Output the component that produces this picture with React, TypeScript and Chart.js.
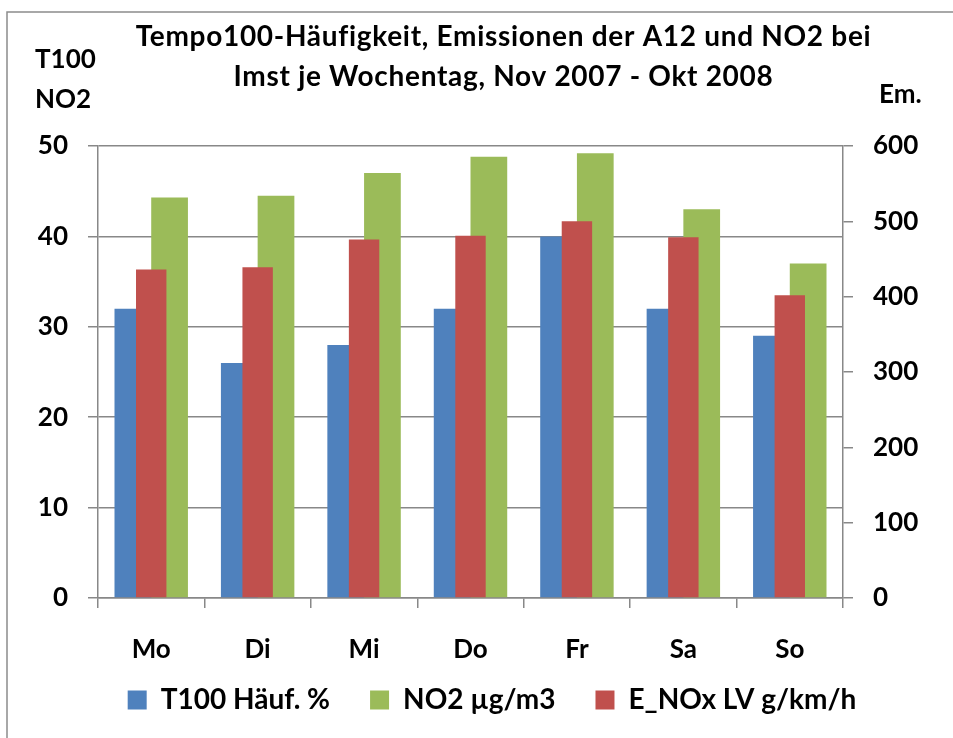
import React, { useEffect, useRef } from 'react';
import { Chart, registerables } from 'chart.js';

Chart.register(...registerables);

// ---- data ----
const days = ['Mo', 'Di', 'Mi', 'Do', 'Fr', 'Sa', 'So'];
const t100Values = [32, 26, 28, 32, 40, 32, 29];
const no2Values = [44.3, 44.5, 47.0, 48.8, 49.2, 43.0, 37.0];
const enoxValues = [436, 439, 476, 481, 500, 479, 402];
const seriesNames = ['T100 Häuf. %', 'NO2 µg/m3', 'E_NOx LV g/km/h'];
const titleLines = ['Tempo100-Häufigkeit, Emissionen der A12 und NO2 bei', 'Imst je Wochentag, Nov 2007 - Okt 2008'];
const leftAxisLines = ['T100', 'NO2'];
const rightAxisLabel = 'Em.';

// ---- style ----
const FONT = 'Lato, "Open Sans", sans-serif';
const GRID = '#888888';
const BLUE = '#4F81BD';
const GREEN = '#9BBB59';
const RED = '#C0504D';
const LEGEND_LIFT = 18;

const decorPlugin = {
  id: 'decor',
  afterLayout(chart: any) {
    const lg = chart.legend;
    if (lg) {
      lg.top -= LEGEND_LIFT;
      lg.height = lg.bottom - lg.top;
    }
  },
  beforeDraw(chart: any) {
    const ctx = chart.ctx;
    ctx.save();
    ctx.fillStyle = '#ffffff';
    ctx.fillRect(0, 0, chart.width, chart.height);
    ctx.strokeStyle = '#8c8c8c';
    ctx.lineWidth = 1.5;
    ctx.strokeRect(7, 12, chart.width + 40, chart.height + 40);
    ctx.restore();
  },
  afterDraw(chart: any) {
    const ctx = chart.ctx;
    ctx.save();
    ctx.fillStyle = '#000000';
    ctx.textBaseline = 'alphabetic';
    ctx.textAlign = 'center';
    ctx.font = `bold 28px ${FONT}`;
    if ('letterSpacing' in ctx) (ctx as any).letterSpacing = '0.7px';
    ctx.fillText(titleLines[0], 503.5, 46);
    ctx.fillText(titleLines[1], 503.5, 86);
    if ('letterSpacing' in ctx) (ctx as any).letterSpacing = '0px';
    ctx.textAlign = 'left';
    ctx.font = `bold 26px ${FONT}`;
    ctx.fillText(leftAxisLines[0], 35, 68);
    ctx.fillText(leftAxisLines[1], 35, 108);
    ctx.fillText(rightAxisLabel, 879, 103);
    ctx.restore();
  },
};

export default function App() {
  const ref = useRef<HTMLCanvasElement | null>(null);

  useEffect(() => {
    if (!ref.current) return;
    const tickFont = { family: FONT, size: 26, weight: 'bold' as const };
    const chart = new Chart(ref.current, {
      type: 'bar',
      data: {
        labels: days,
        datasets: [
          {
            label: seriesNames[0],
            data: t100Values,
            backgroundColor: BLUE,
            borderWidth: 0,
            yAxisID: 'y',
            categoryPercentage: 0.69,
            barPercentage: 1,
            order: 1,
          },
          {
            label: seriesNames[1],
            data: no2Values,
            backgroundColor: GREEN,
            borderWidth: 0,
            yAxisID: 'y',
            categoryPercentage: 0.69,
            barPercentage: 1,
            order: 1,
          },
          {
            label: seriesNames[2],
            data: enoxValues,
            backgroundColor: RED,
            borderWidth: 0,
            yAxisID: 'y2',
            grouped: false,
            categoryPercentage: 0.2857,
            barPercentage: 1,
            order: 0,
          },
        ],
      },
      options: {
        responsive: false,
        animation: false,
        layout: { padding: { left: 31, right: 0, top: 146, bottom: 14 } },
        plugins: {
          title: { display: false },
          tooltip: { enabled: false },
          legend: {
            display: true,
            position: 'bottom',
            maxHeight: 60,
            labels: {
              boxWidth: 19,
              boxHeight: 19,
              padding: 40,
              color: '#000000',
              font: { family: FONT, size: 28, weight: 'bold' },
              sort: (a: any, b: any) => a.datasetIndex - b.datasetIndex,
            },
          },
        },
        scales: {
          x: {
            type: 'category',
            position: 'bottom',
            offset: true,
            grid: {
              display: true,
              drawOnChartArea: false,
              drawTicks: true,
              tickLength: 10,
              offset: true,
              color: GRID,
              lineWidth: 1.5,
            },
            border: { display: true, color: GRID, width: 1.5 },
            ticks: { color: '#000000', font: tickFont, padding: 26, maxRotation: 0, autoSkip: false },
            afterFit: (s: any) => { s.height = 66; },
          },
          y: {
            position: 'left',
            min: 0,
            max: 50,
            ticks: { stepSize: 10, padding: 20, color: '#000000', font: tickFont },
            grid: { color: GRID, lineWidth: 1.5, tickLength: 10, drawTicks: true },
            border: { display: true, color: GRID, width: 1.5 },
            afterFit: (s: any) => { s.width = 67; },
          },
          y2: {
            position: 'right',
            min: 0,
            max: 600,
            ticks: { stepSize: 100, padding: 20, color: '#000000', font: tickFont },
            grid: { drawOnChartArea: false, color: GRID, lineWidth: 1.5, tickLength: 10, drawTicks: true },
            border: { display: true, color: GRID, width: 1.5 },
            afterFit: (s: any) => { s.width = 110; },
          },
        },
      },
      plugins: [decorPlugin],
    });
    return () => chart.destroy();
  }, []);

  return (
    <div style={{ position: 'fixed', left: 0, top: 0, width: 953, height: 738, background: '#fff' }}>
      <canvas ref={ref} width={953} height={738} style={{ display: 'block' }} />
    </div>
  );
}
